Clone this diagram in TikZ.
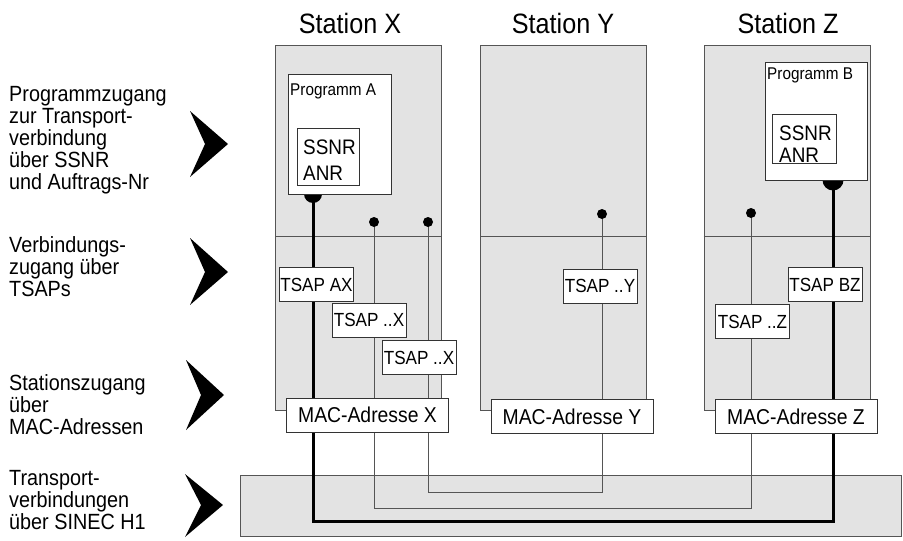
\documentclass[tikz,border=0pt]{standalone}
\usepackage{fontspec}
\setmainfont{Liberation Sans}[FakeStretch=0.9]
\definecolor{panel}{HTML}{E3E3E3}
\definecolor{edge}{HTML}{555555}
\definecolor{boxedge}{HTML}{333333}
\newcommand{\fs}[2]{\fontsize{#1}{#2}\selectfont}
\tikzset{
  station/.style={draw=edge, fill=panel, line width=1pt, inner sep=0pt,
    minimum width=166pt, minimum height=365pt},
  progbox/.style={draw=boxedge, fill=white, line width=0.9pt, inner sep=0pt},
  tsapbox/.style={draw=boxedge, fill=white, line width=0.9pt, inner sep=0pt,
    minimum width=74pt, minimum height=34pt, font=\fs{19}{22}},
  macbox/.style={draw=boxedge, fill=white, line width=0.9pt, inner sep=0pt,
    minimum width=162pt, minimum height=34pt, font=\fs{21.5}{24}},
  title/.style={anchor=base, inner sep=0pt, font=\fs{28}{32}},
  % multi-line labels are placed by the baseline of their last line
  lbl/.style={anchor=base west, align=left, inner sep=0pt, font=\fs{22}{22}},
  txt/.style={anchor=base west, inner sep=0pt},
  mainline/.style={line width=3pt, draw=black},
  sideline/.style={line width=1pt, draw=edge},
  chevron/.style={fill=black},
}
\begin{document}
\begin{tikzpicture}[x=1pt,y=-1pt]
\useasboundingbox (0,0) rectangle (903,541);

% stations
\node[station] (stX) at (358.5,227.5) {};
\node[station] (stY) at (563.5,227.5) {};
\node[station] (stZ) at (787,227.5) {};
\foreach \s in {stX,stY,stZ}
  \draw[edge, line width=1pt] (\s.west |- 0,236) -- (\s.east |- 0,236);

% network band
\node[draw=edge, fill=panel, line width=1pt, inner sep=0pt,
      minimum width=661pt, minimum height=61pt] (net) at (570.5,505.5) {};

% titles
\node[title] (tX) at (350,33) {Station X};
\node[title] (tY) at (563,33) {Station Y};
\node[title] (tZ) at (788,33) {Station Z};

% connection end points
\coordinate (pA) at (313,194);
\coordinate (pB) at (833,180);
\coordinate (dX1) at (374,222);
\coordinate (dX2) at (428,222);
\coordinate (dY) at (602,214);
\coordinate (dZ) at (751,213);

% transport connections
\draw[mainline] (pA) -- (pA |- 0,521) -| (pB);
\draw[sideline] (dX1) -- (dX1 |- 0,508) -| (dZ);
\draw[sideline] (dX2) -- (dX2 |- 0,492) -| (dY);

% access points
\fill (pA) circle (9);
\fill (pB) circle (10.5);
\foreach \d in {dX1,dX2,dY,dZ} \fill (\d) circle (5);

% programs
\node[progbox, minimum width=103pt, minimum height=120pt] (progA) at (339.5,134) {};
\node[txt, font=\fs{17}{20}] (progAt) at (290,95) {Programm A};
\node[progbox, minimum width=62pt, minimum height=57pt] (ssA) at (328,156.5) {};
\node[txt, font=\fs{21}{24}] (ssA1) at (303,154) {SSNR};
\node[txt, font=\fs{21}{24}] (ssA2) at (303,180) {ANR};

\node[progbox, minimum width=102pt, minimum height=118pt] (progB) at (816,121) {};
\node[txt, font=\fs{17}{20}] (progBt) at (767,79) {Programm B};
\node[progbox, minimum width=64pt, minimum height=49pt] (ssB) at (804,138.5) {};
\node[txt, font=\fs{21}{24}] (ssB1) at (779,140) {SSNR};
\node[txt, font=\fs{21}{24}] (ssB2) at (779,162) {ANR};

% TSAPs
\node[tsapbox] (tsAX) at (316.5,284.5) {TSAP AX};
\node[tsapbox] (tsX1) at (369,320) {TSAP ..X};
\node[tsapbox] (tsX2) at (419,357.5) {TSAP ..X};
\node[tsapbox] (tsY)  at (600,286) {TSAP ..Y};
\node[tsapbox] (tsBZ) at (825,284.5) {TSAP BZ};
\node[tsapbox] (tsZ)  at (752.5,321.5) {TSAP ..Z};

% MAC addresses
\node[macbox] (macX) at (367.5,415) {MAC-Adresse X};
\node[macbox] (macY) at (572,416.5) {MAC-Adresse Y};
\node[macbox] (macZ) at (796,416.5) {MAC-Adresse Z};

% layer labels
\node[lbl] (L1) at (9,189) {Programmzugang\\zur Transport-\\verbindung\\über SSNR\\und Auftrags-Nr};
\node[lbl] (L2) at (9,296) {Verbindungs-\\zugang über\\TSAPs};
\node[lbl] (L3) at (9,434) {Stationszugang\\über\\MAC-Adressen};
\node[lbl] (L4) at (9,529) {Transport-\\verbindungen\\über SINEC H1};

% chevrons
\fill[chevron] (190,111) -- (228,144) -- (190,177) -- (205,144) -- cycle;
\fill[chevron] (190,238) -- (228,272) -- (190,305) -- (205,272) -- cycle;
\fill[chevron] (186,360) -- (224,395) -- (186,430) -- (201,395) -- cycle;
\fill[chevron] (185,474) -- (223,505) -- (185,537) -- (201,505) -- cycle;
\end{tikzpicture}
\end{document}
